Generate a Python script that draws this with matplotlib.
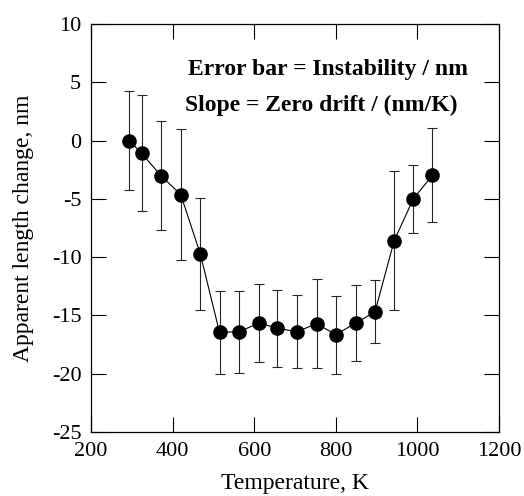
import matplotlib
matplotlib.use("Agg")
import matplotlib.pyplot as plt

# temperature (K), apparent length change (nm), instability (nm)
temperature = [293, 324, 371, 420, 468, 515, 563, 612, 657, 705,
               753, 800, 849, 896, 943, 990, 1037]
length_change = [0.0, -1.08, -3.0, -4.63, -9.74, -16.45, -16.4, -15.65, -16.1, -16.4,
                 -15.7, -16.65, -15.65, -14.7, -8.6, -5.0, -2.97]
instability = [4.28, 4.98, 4.7, 5.6, 4.8, 3.55, 3.5, 3.35, 3.3, 3.15,
               3.8, 3.35, 3.22, 2.7, 5.95, 2.9, 4.03]

x_ticks = [200, 400, 600, 800, 1000, 1200]
y_ticks = [10, 5, 0, -5, -10, -15, -20, -25]

plt.rcParams["font.family"] = ["Liberation Serif", "DejaVu Serif"]
plt.rcParams["axes.unicode_minus"] = False

fig = plt.figure(figsize=(5.24, 4.96), dpi=100)
ax = fig.add_axes([91 / 524, 1 - 432 / 496, 408 / 524, 408 / 496])

ax.errorbar(temperature, length_change, yerr=instability, fmt="-o", color="k",
            lw=0.8, elinewidth=0.8, ecolor="0.15", capsize=3.5, capthick=0.8,
            markersize=9.5, zorder=3)

ax.set_xlim(200, 1200)
ax.set_ylim(-25, 10)
ax.set_xticks(x_ticks)
ax.set_yticks(y_ticks)
ax.tick_params(direction="in", length=10.5, width=0.8, top=True, right=True,
               labelsize=16, pad=7)
for s in ax.spines.values():
    s.set_linewidth(0.9)

ax.set_xlabel("Temperature, K", fontsize=17, labelpad=9)
ax.set_ylabel("Apparent length change, nm", fontsize=17, labelpad=13)

ax.text((188 - 91) / 408, 0.875, "Error bar = Instability / nm", transform=ax.transAxes,
        fontsize=17, fontweight="bold", ha="left", va="baseline")
ax.text((185 - 91) / 408, 0.787, "Slope = Zero drift / (nm/K)", transform=ax.transAxes,
        fontsize=17, fontweight="bold", ha="left", va="baseline")

fig.savefig("out.png", dpi=100)
